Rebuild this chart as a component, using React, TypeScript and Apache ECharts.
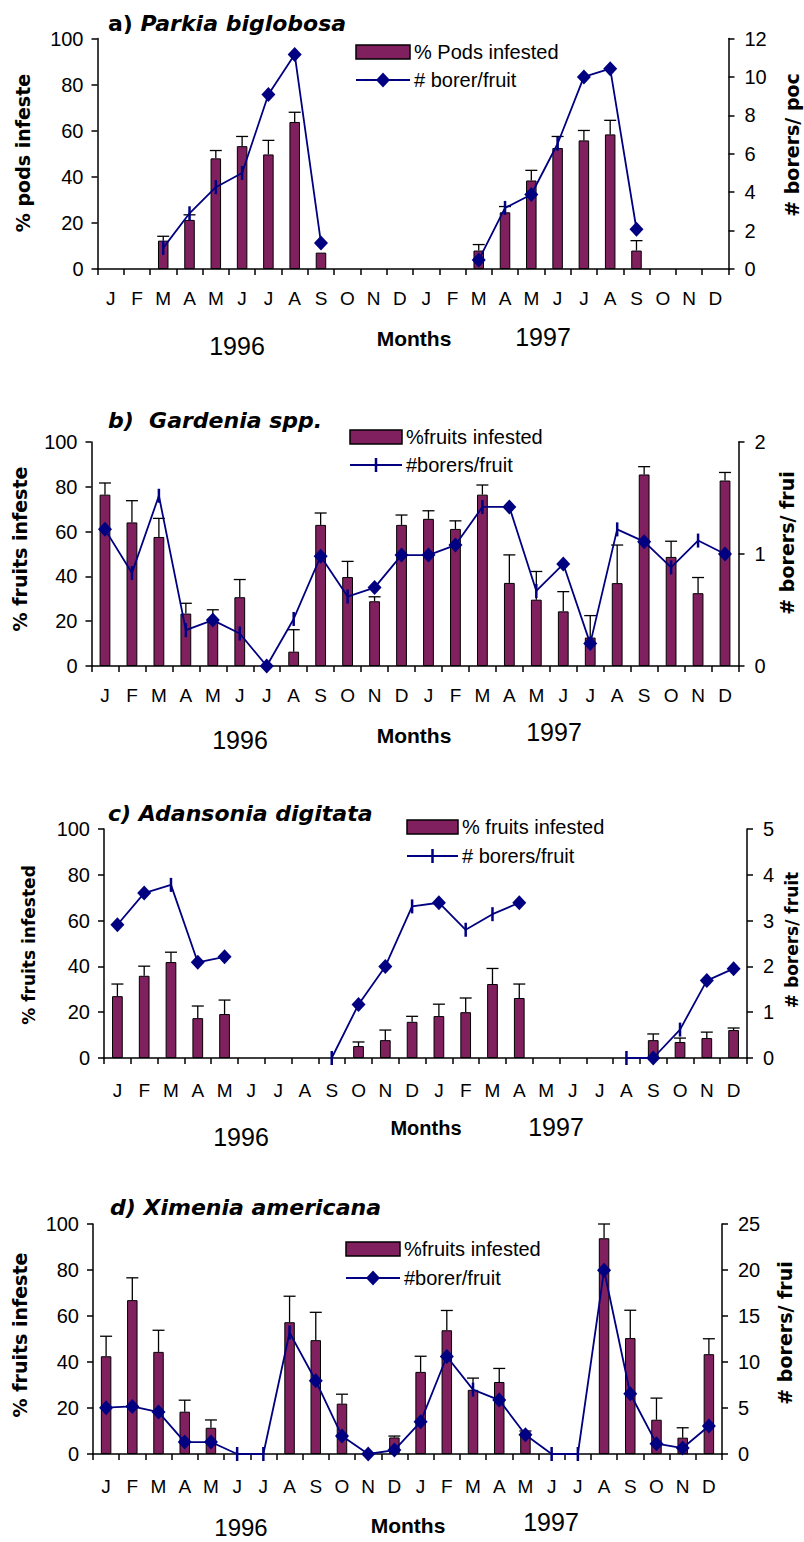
import React, { useEffect, useRef } from "react";
import * as echarts from "echarts";

const months = ["J","F","M","A","M","J","J","A","S","O","N","D","J","F","M","A","M","J","J","A","S","O","N","D"];

// a) Parkia biglobosa
const aPods = [null,null,12.3,21.3,48,53.3,49.7,63.8,7.1,null,null,null, null,null,8,24.6,38.4,52.5,55.8,58.4,8,null,null,null];
const aPodsErr = [null,null,1.9,2.2,3.4,4.2,6.1,4.2,0,null,null,null, null,null,2.6,2.5,4.4,5,4.3,6.1,4.3,null,null,null];
const aBorers = [null,null,1.1,2.9,4.26,5.0,9.08,11.17,1.36,null,null,null, null,null,0.47,3.18,3.88,6.52,10,10.43,2.07,null,null,null];
const aMarks = "..ttttddd.....dtdtddd...";

// b) Gardenia spp.
const bFruits = [76.5,64.1,57.6,23.4,21.1,30.7,null,6.4,63,39.7,28.9,63, 65.7,61.2,76.5,37.1,29.6,24.4,12.7,37,85.5,48.7,32.5,82.8];
const bErr = [5.2,9.7,8.3,4.6,4,7.9,null,9.8,5.3,7,2,4.4, 3.6,3.6,4.3,12.5,12.6,8.8,9.8,17,3.5,7,7,3.6];
const bBorers = [1.22,0.83,1.52,0.32,0.41,0.29,0,0.42,0.98,0.62,0.70,0.99, 0.99,1.08,1.42,1.42,0.67,0.91,0.2,1.22,1.11,0.88,1.12,1.0];
const bMarks = "dtttdtdtdtddddtdtddtdttd";

// c) Adansonia digitata
const cFruits = [27,35.9,41.9,17.4,19.2,null,null,null,null,5.2,7.8,15.8, 18.3,20,32.3,26.2,null,null,null,null,7.8,7,8.7,12.2];
const cErr = [5.3,4.2,4.3,5.3,6.1,null,null,null,null,1.8,4.4,2.4, 5.2,6.2,6.8,6.1,null,null,null,null,2.7,1.7,2.6,0.9];
const cBorers = [2.91,3.6,3.78,2.09,2.21,null,null,null,0,1.17,2.0,3.31, 3.39,2.8,3.14,3.39,null,null,null,0,0,0.62,1.69,1.95];
const cMarks = "ddtdd...tddtdttd...tdtdd";

// d) Ximenia americana
const dFruits = [42.5,66.9,44.4,18.4,11.4,null,null,57.3,49.5,21.9,null,7.2, 35.7,53.8,27.9,31.3,9.6,null,null,93.8,50.4,14.9,7.1,43.4];
const dErr = [8.7,9.7,9.4,5,3.4,null,null,11.3,12.1,4.1,null,0.6, 6.8,8.6,5.1,5.9,0.4,null,null,6.2,12.1,9.4,4.3,6.7];
const dBorers = [5.03,5.17,4.56,1.3,1.3,0,0,13.2,7.96,1.95,0,0.43, 3.5,10.6,7.0,5.86,2.1,0,0,19.97,6.55,1.12,0.65,3.04];
const dMarks = "dddddtttddddddtddttddddd";

const leftTicks = [0, 100, 20];
const rightMax = [12, 2, 5, 25];
const rightInterval = [2, 1, 1, 5];

const titlesLetter = ["a) ", "b)  ", "c) ", "d) "];
const titlesName = ["Parkia biglobosa", "Gardenia spp.", "Adansonia digitata", "Ximenia americana"];
const leftTitles = ["% pods infeste", "% fruits infeste", "% fruits infested", "% fruits infeste"];
const rightTitles = ["# borers/ poc", "# borers/ frui", "# borers/ fruit", "# borers/ frui"];
const barLegend = ["% Pods infested", "%fruits infested", "% fruits infested", "%fruits infested"];
const lineLegend = ["# borer/fruit", "#borers/fruit", "# borers/fruit", "#borer/fruit"];
const yearLabels = ["1996", "1997"];
const xTitle = "Months";

const panels = [
  { bars: aPods, err: aPodsErr, line: aBorers, marks: aMarks },
  { bars: bFruits, err: bErr, line: bBorers, marks: bMarks },
  { bars: cFruits, err: cErr, line: cBorers, marks: cMarks },
  { bars: dFruits, err: dErr, line: dBorers, marks: dMarks },
];

// layout (pixels)
const layout = [
  { left: 97.5, top: 38.5, width: 631, height: 230.5, lblMargin: 20, title: [108, 23], lTitle: [23, 153, 19], rTitle: [792, 145, 19], leg: [356, 52, 80, 54], legMark: "d", y1996: [237, 346], months: [414, 338, 21], y1997: [543, 337] },
  { left: 91.5, top: 442, width: 647, height: 224, lblMargin: 20, title: [108, 420], lTitle: [20, 549, 19], rTitle: [787, 543, 19], leg: [350, 437, 465, 52], legMark: "t", y1996: [240, 740], months: [414, 735, 21], y1997: [554, 732] },
  { left: 104, top: 829, width: 643, height: 229, lblMargin: 23, title: [108, 813], lTitle: [29, 945, 17], rTitle: [792, 940, 17], leg: [407, 827, 856, 51], legMark: "t", y1996: [241, 1137], months: [426, 1128, 20], y1997: [556, 1127] },
  { left: 93, top: 1224, width: 629, height: 230, lblMargin: 23, title: [110, 1207], lTitle: [20, 1335, 19], rTitle: [785, 1333, 19], leg: [346, 1249, 1278, 54], legMark: "d", y1996: [241, 1527], months: [408, 1525, 21], y1997: [551, 1522] },
];

const BAR = "#80205F";
const LINE = "#000080";
const SANS = "'Liberation Sans', Arial, sans-serif";
const WIDE = "'DejaVu Sans', Verdana, sans-serif";

function buildOption() {
  const grid: any[] = [];
  const xAxis: any[] = [];
  const yAxis: any[] = [];
  const series: any[] = [];
  const graphic: any[] = [];

  panels.forEach((p, k) => {
    const L = layout[k];
    grid.push({ left: L.left, top: L.top, width: L.width, height: L.height, containLabel: false });
    xAxis.push({
      type: "category", gridIndex: k, data: months, boundaryGap: true,
      axisLine: { show: true, lineStyle: { color: "#000", width: 1.5 } },
      axisTick: { show: true, interval: 0, length: 6, lineStyle: { color: "#000", width: 1.5 } },
      axisLabel: { interval: 0, color: "#000", fontSize: 19, fontFamily: SANS, margin: L.lblMargin },
      splitLine: { show: false },
    });
    yAxis.push({
      type: "value", gridIndex: k, min: leftTicks[0], max: leftTicks[1], interval: leftTicks[2], position: "left",
      axisLine: { show: true, lineStyle: { color: "#000", width: 1.5 } },
      axisTick: { show: true, length: 6, lineStyle: { color: "#000", width: 1.5 } },
      axisLabel: { color: "#000", fontSize: 20, fontFamily: SANS, margin: 14 },
      splitLine: { show: false },
    });
    yAxis.push({
      type: "value", gridIndex: k, min: 0, max: rightMax[k], interval: rightInterval[k], position: "right",
      axisLine: { show: true, lineStyle: { color: "#000", width: 1.5 } },
      axisTick: { show: true, length: 6, lineStyle: { color: "#000", width: 1.5 } },
      axisLabel: { color: "#000", fontSize: 20, fontFamily: SANS, margin: 16 },
      splitLine: { show: false },
    });
    series.push({
      type: "bar", xAxisIndex: k, yAxisIndex: 2 * k, data: p.bars, barWidth: "40%", z: 2,
      itemStyle: { color: BAR, borderColor: "#000", borderWidth: 1 },
    });
    const errData: any[] = [];
    p.bars.forEach((v, i) => {
      const e = p.err[i];
      if (v != null && e != null && e > 0) errData.push([i, v, e]);
    });
    series.push({
      type: "custom", xAxisIndex: k, yAxisIndex: 2 * k, z: 3, data: errData,
      encode: { x: 0, y: 1 },
      renderItem: (params: any, api: any) => {
        const i = api.value(0), v = api.value(1), e = api.value(2);
        const p0 = api.coord([i, v]);
        const p1 = api.coord([i, v + e]);
        const st = { stroke: "#000", lineWidth: 1.3 };
        return {
          type: "group",
          children: [
            { type: "line", shape: { x1: p0[0], y1: p0[1], x2: p1[0], y2: p1[1] }, style: st },
            { type: "line", shape: { x1: p1[0] - 6, y1: p1[1], x2: p1[0] + 6, y2: p1[1] }, style: st },
          ],
        };
      },
    });
    series.push({
      type: "line", xAxisIndex: k, yAxisIndex: 2 * k + 1, z: 4, connectNulls: false,
      lineStyle: { color: LINE, width: 1.8 },
      itemStyle: { color: LINE },
      data: p.line.map((v, i) =>
        v == null ? null : {
          value: v,
          symbol: p.marks[i] === "t" ? "rect" : "diamond",
          symbolSize: p.marks[i] === "t" ? [2.5, 14] : [14, 15],
        }),
    });

    // title
    graphic.push({
      type: "text", x: L.title[0], y: L.title[1],
      style: {
        text: `{n|${titlesLetter[k]}}{i|${titlesName[k]}}`,
        verticalAlign: "middle", align: "left",
        rich: {
          n: { fontFamily: WIDE, fontWeight: "bold", fontStyle: k === 0 ? "normal" : "italic", fontSize: 22, fill: "#000" },
          i: { fontFamily: WIDE, fontWeight: "bold", fontStyle: "italic", fontSize: 22, fill: "#000" },
        },
      },
    });
    // axis titles
    graphic.push({
      type: "text", x: L.lTitle[0], y: L.lTitle[1], rotation: Math.PI / 2,
      style: { text: leftTitles[k], fontFamily: WIDE, fontWeight: "bold", fontSize: L.lTitle[2], fill: "#000", align: "center", verticalAlign: "middle" },
    });
    graphic.push({
      type: "text", x: L.rTitle[0], y: L.rTitle[1], rotation: Math.PI / 2,
      style: { text: rightTitles[k], fontFamily: WIDE, fontWeight: "bold", fontSize: L.rTitle[2], fill: "#000", align: "center", verticalAlign: "middle" },
    });
    // legend
    const [lx, ly1, ly2, lw] = L.leg;
    graphic.push({ type: "rect", shape: { x: lx, y: ly1 - 7, width: lw, height: 14 }, style: { fill: BAR, stroke: "#000", lineWidth: 1.5 } });
    graphic.push({ type: "text", x: lx + lw + 4, y: ly1, style: { text: barLegend[k], fontFamily: SANS, fontSize: 20, fill: "#000", align: "left", verticalAlign: "middle" } });
    graphic.push({ type: "line", shape: { x1: lx, y1: ly2, x2: lx + lw, y2: ly2 }, style: { stroke: LINE, lineWidth: 1.8 } });
    const cx = lx + lw / 2;
    if (L.legMark === "d") {
      graphic.push({ type: "polygon", shape: { points: [[cx, ly2 - 7.5], [cx + 7, ly2], [cx, ly2 + 7.5], [cx - 7, ly2]] }, style: { fill: LINE } });
    } else {
      graphic.push({ type: "rect", shape: { x: cx - 1.25, y: ly2 - 7, width: 2.5, height: 14 }, style: { fill: LINE } });
    }
    graphic.push({ type: "text", x: lx + lw + 4, y: ly2, style: { text: lineLegend[k], fontFamily: SANS, fontSize: 20, fill: "#000", align: "left", verticalAlign: "middle" } });
    // x labels
    graphic.push({ type: "text", x: L.y1996[0], y: L.y1996[1], style: { text: yearLabels[0], fontFamily: SANS, fontSize: k === 3 ? 24 : 25, fill: "#000", align: "center", verticalAlign: "middle" } });
    graphic.push({ type: "text", x: L.y1997[0], y: L.y1997[1], style: { text: yearLabels[1], fontFamily: SANS, fontSize: 25, fill: "#000", align: "center", verticalAlign: "middle" } });
    graphic.push({ type: "text", x: L.months[0], y: L.months[1], style: { text: xTitle, fontFamily: SANS, fontWeight: "bold", fontSize: L.months[2], fill: "#000", align: "center", verticalAlign: "middle" } });
  });

  return {
    animation: false,
    backgroundColor: "#fff",
    textStyle: { fontFamily: SANS },
    grid, xAxis, yAxis, series, graphic,
  };
}

export default function App() {
  const ref = useRef<HTMLDivElement>(null);
  useEffect(() => {
    if (!ref.current) return;
    const chart = echarts.init(ref.current, null, { renderer: "svg" });
    chart.setOption(buildOption() as any);
    return () => chart.dispose();
  }, []);
  return <div ref={ref} style={{ position: "absolute", left: 0, top: 0, width: 804, height: 1542, background: "#fff" }} />;
}
